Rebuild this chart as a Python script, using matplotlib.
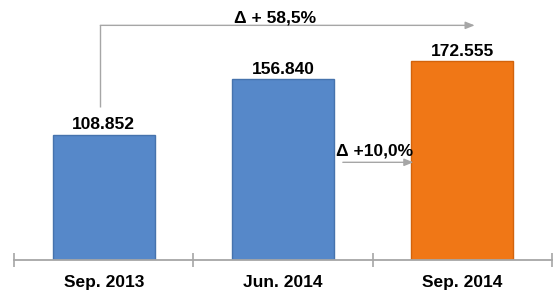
import numpy as np
import matplotlib.pyplot as plt

plt.rcParams['font.family'] = ['Liberation Sans', 'DejaVu Sans']

periods = ['Sep. 2013', 'Jun. 2014', 'Sep. 2014']
values = [108852, 156840, 172555]
value_labels = ['108.852', '156.840', '172.555']
bar_colors = ['#5688C9', '#5688C9', '#F07716']
edge_colors = ['#4673AD', '#4673AD', '#D2630C']
delta_total = 'Δ + 58,5%'
delta_last = 'Δ +10,0%'

fig = plt.figure(figsize=(5.56, 2.92), dpi=100)
ax = fig.add_axes([0.0257, 0.1096, 0.9666, 0.8904])

x = np.arange(len(periods))
ax.bar(x, values, width=0.568, color=bar_colors, edgecolor=edge_colors, linewidth=1.0, zorder=2)

for xi, v, lab in zip(x, values, value_labels):
    ax.annotate(lab, (xi, v), xytext=(0, 3.8), textcoords='offset points',
                ha='center', va='baseline', fontsize=12.5, fontweight='bold')

ax.set_xlim(-0.5, 2.5)
ax.set_ylim(0, 225700)

gray = '#a6a6a6'
# total growth arrow: up from first bar, across to the last one
ax.plot([-0.02, -0.02], [133000, 203700], color=gray, lw=1.0, solid_capstyle='butt')
ax.annotate('', xy=(2.07, 203700), xytext=(-0.02, 203700),
            arrowprops=dict(arrowstyle='-|>,head_length=0.55,head_width=0.22', color=gray, lw=1.0,
                            shrinkA=0, shrinkB=0))
ax.text(0.955, 206300, delta_total, ha='center', va='baseline', fontsize=12.5, fontweight='bold')

# quarter growth arrow between bar 2 and 3
ax.annotate('', xy=(1.728, 84800), xytext=(1.334, 84800),
            arrowprops=dict(arrowstyle='-|>,head_length=0.55,head_width=0.22', color=gray, lw=1.0,
                            shrinkA=0, shrinkB=0))
ax.text(1.51, 90500, delta_last, ha='center', va='baseline', fontsize=12.5, fontweight='bold')

for side in ['left', 'right', 'top']:
    ax.spines[side].set_visible(False)
ax.spines['bottom'].set_color(gray)
ax.spines['bottom'].set_linewidth(1.3)
ax.set_yticks([])
ax.set_xticks([-0.5, 0.5, 1.5, 2.5])
ax.set_xticklabels([])
ax.set_xticks(x, minor=True)
ax.set_xticklabels(periods, minor=True, fontsize=12.5, fontweight='bold')
ax.tick_params(axis='x', which='major', direction='inout', length=10, width=1.2, color=gray)
ax.tick_params(axis='x', which='minor', length=0, pad=10.5)

fig.savefig('out.png', dpi=100)
